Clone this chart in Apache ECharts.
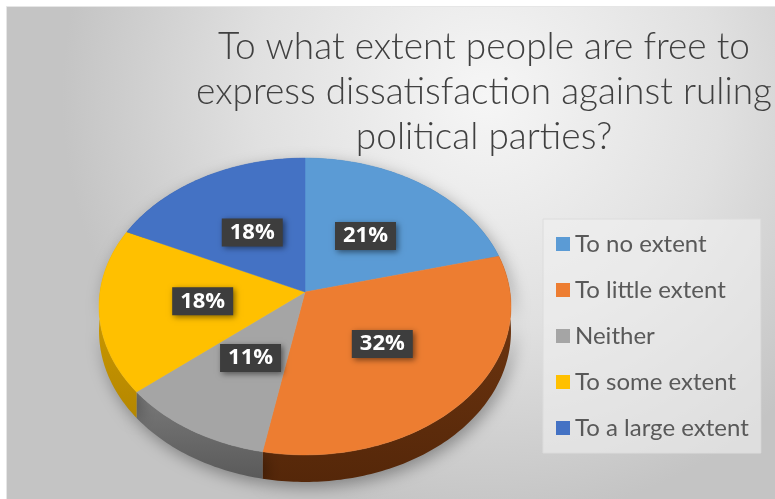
<!DOCTYPE html>
<html>
<head>
<meta charset="utf-8">
<script src="https://cdn.jsdelivr.net/npm/echarts@6/dist/echarts.min.js"></script>
<style>
  html, body { margin: 0; padding: 0; background: #ffffff; }
  #chart { width: 775px; height: 499px; }
</style>
</head>
<body>
<div id="chart"></div>
<script>
// Survey answers and their shares (%)
const categories = ['To no extent', 'To little extent', 'Neither', 'To some extent', 'To a large extent'];
const shares = [21, 32, 11, 18, 18];
const topColors = ['#5b9bd5', '#ed7d31', '#a5a5a5', '#ffc000', '#4472c4'];
const sideColors = [['#4a7fb0', '#3a6590'], ['#743912', '#552709'], ['#7a7a7a', '#5a5a5a'], ['#d9a300', '#b58700'], ['#38609f', '#2b4b80']];
const titleLines = ['To what extent people are free to', 'express dissatisfaction against ruling', 'political parties?'];

// Geometry of the tilted disc (perspective view)
const CX = 305, CY = 292, RX = 205, RY = 147, PERSP = 0.0976, DEPTH = 24.4;
const total = shares.reduce((a, b) => a + b, 0);
const starts = [];
shares.reduce((acc, v, i) => { starts[i] = acc; return acc + v; }, 0);

function project(theta, r, drop) {
  const u = r * Math.sin(theta), v = r * Math.cos(theta);
  const s = 1 / (1 + PERSP * v);
  return [CX + RX * u * s, CY - RY * v * s + drop * s];
}
function arc(a0, a1, drop) {
  const pts = [];
  const n = Math.max(2, Math.ceil((a1 - a0) / (Math.PI / 180)));
  for (let k = 0; k <= n; k++) pts.push(project(a0 + (a1 - a0) * k / n, 1, drop));
  return pts;
}
function angles(i, value) {
  const a0 = starts[i] / total * Math.PI * 2;
  const a1 = (starts[i] + value) / total * Math.PI * 2;
  return [a0, a1];
}

const chart = echarts.init(document.getElementById('chart'), null, { renderer: 'canvas' });

const option = {
  animation: false,
  title: {
    text: titleLines.join('\n'),
    left: 479,
    top: 20,
    textAlign: 'center',
    textStyle: { fontFamily: 'Lato', fontSize: 37, fontWeight: 300, color: '#404040', lineHeight: 45 }
  },
  legend: {
    orient: 'vertical',
    left: 543,
    top: 219,
    icon: 'rect',
    itemWidth: 14,
    itemHeight: 14,
    itemGap: 22,
    padding: [13, 12, 13, 13],
    backgroundColor: 'rgba(240,240,240,0.6)',
    borderColor: '#dcdcdc',
    borderWidth: 1,
    textStyle: { fontFamily: 'Lato', fontSize: 24, color: '#595959', lineHeight: 24 },
    data: categories
  },
  graphic: [{
    type: 'rect',
    z: -10,
    shape: { x: 6.5, y: 6.5, width: 775, height: 499 },
    style: {
      fill: new echarts.graphic.RadialGradient(0.62, 0.18, 0.85, [
        { offset: 0, color: '#f6f6f6' },
        { offset: 0.55, color: '#e0e0e0' },
        { offset: 1, color: '#c4c4c4' }
      ]),
      stroke: '#e6e6e6',
      lineWidth: 1
    }
  }],
  series: [
    {
      // legend source only
      type: 'pie',
      radius: [0, 0],
      silent: true,
      label: { show: false },
      data: categories.map((c, i) => ({ name: c, value: shares[i], itemStyle: { color: topColors[i] } }))
    },
    {
      // side walls of the disc
      type: 'custom',
      coordinateSystem: 'none',
      z: 2,
      silent: true,
      data: shares,
      renderItem: function (params, api) {
        const i = params.dataIndex;
        const [a0, a1] = angles(i, api.value(0));
        const topArc = arc(a0, a1, 0);
        const lowArc = arc(a0, a1, DEPTH).reverse();
        return {
          type: 'polygon',
          shape: { points: topArc.concat(lowArc) },
          style: {
            fill: new echarts.graphic.LinearGradient(0, 0, 0, 1, [
              { offset: 0, color: sideColors[i][0] },
              { offset: 1, color: sideColors[i][1] }
            ]),
            shadowBlur: 16,
            shadowColor: 'rgba(0,0,0,0.35)',
            shadowOffsetY: 5,
            shadowOffsetX: 3
          }
        };
      }
    },
    {
      // top faces and value labels
      type: 'custom',
      coordinateSystem: 'none',
      z: 3,
      silent: true,
      data: shares,
      renderItem: function (params, api) {
        const i = params.dataIndex;
        const value = api.value(0);
        const [a0, a1] = angles(i, value);
        const pts = [project(0, 0, 0)].concat(arc(a0, a1, 0));
        const lp = project((a0 + a1) / 2, 0.5, 0);
        return {
          type: 'group',
          children: [
            {
              type: 'polygon',
              shape: { points: pts },
              style: { fill: topColors[i], stroke: topColors[i], lineWidth: 0.5 }
            },
            {
              type: 'text',
              x: lp[0],
              y: lp[1],
              z2: 10,
              style: {
                text: Math.round(value / total * 100) + '%',
                fill: '#ffffff',
                font: 'bold 22px "Open Sans"',
                align: 'center',
                verticalAlign: 'middle',
                backgroundColor: '#3d3d3d',
                padding: [4, 8, 2, 8],
                shadowBlur: 6,
                shadowColor: 'rgba(0,0,0,0.5)',
                shadowOffsetX: 2,
                shadowOffsetY: 2
              }
            }
          ]
        };
      }
    }
  ]
};

chart.setOption(option);
</script>
</body>
</html>
